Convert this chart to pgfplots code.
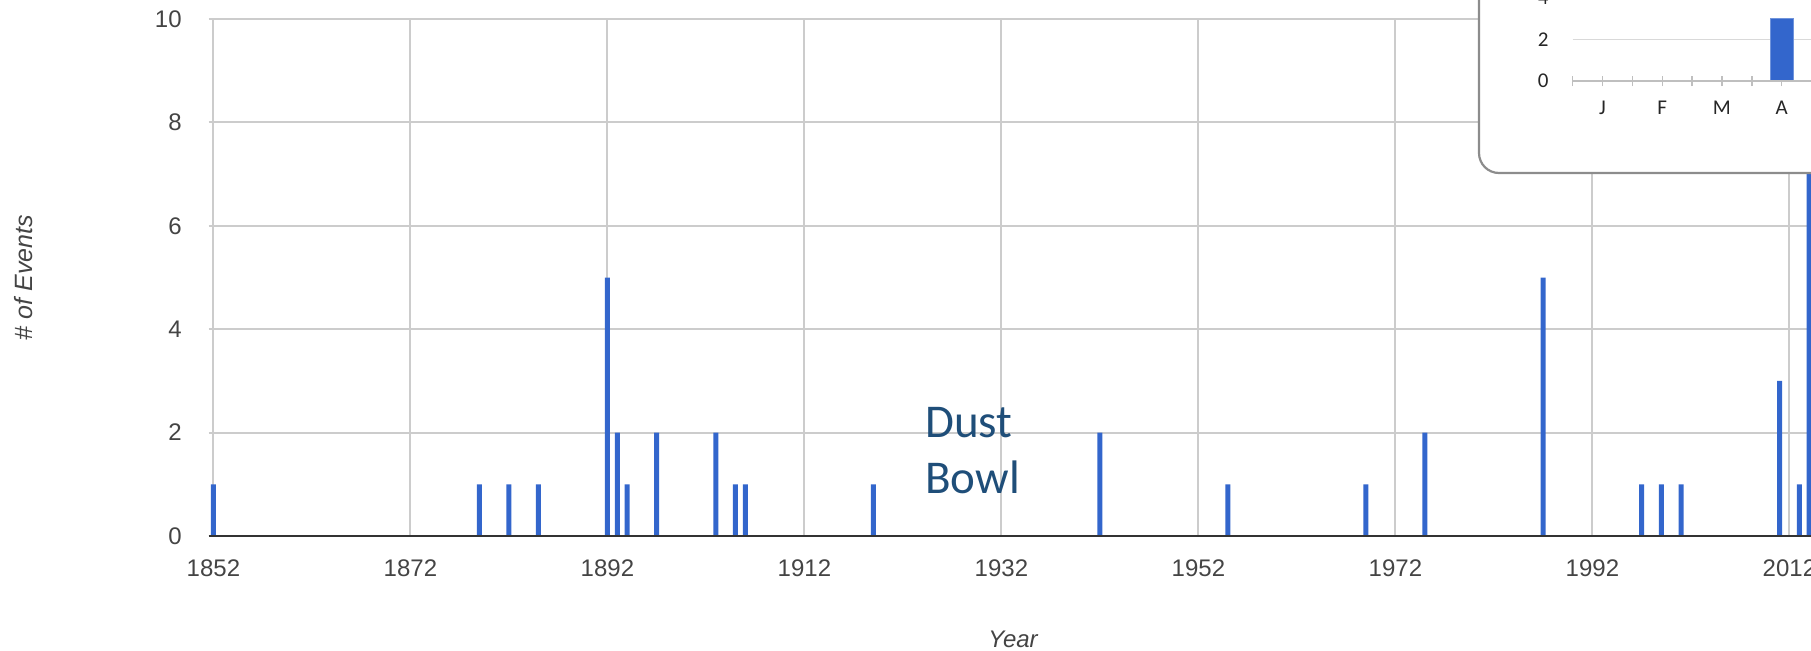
\documentclass[border=0pt]{standalone}
\usepackage{fontspec}
\setmainfont{Liberation Sans}
\newfontfamily\carlito{Carlito}
\usepackage{pgfplots}
\pgfplotsset{compat=1.18}
\definecolor{barblue}{HTML}{3366CC}
\definecolor{gridgray}{HTML}{CCCCCC}
\definecolor{labgray}{HTML}{444444}
\definecolor{dustblue}{HTML}{1F4E79}
\definecolor{boxgray}{HTML}{8C8C8C}
\definecolor{insetaxis}{HTML}{BFBFBF}
\definecolor{insetgrid}{HTML}{D9D9D9}
\begin{document}
\begin{tikzpicture}
\useasboundingbox (0,0) rectangle (905.5pt,325pt);
\clip (0,0) rectangle (905.5pt,325pt);
\begin{axis}[
  at={(104.25pt,57pt)}, anchor=south west,
  scale only axis, width=801.3pt, height=258.5pt,
  xmin=1851.5, xmax=2014.2, ymin=0, ymax=10,
  axis line style={draw=none},
  ytick={0,2,...,10}, xtick={1852,1872,...,2012},
  grid=major, major grid style={gridgray, line width=1pt},
  tick style={draw=none}, major tick length=0pt,
  ticklabel style={font=\fontsize{12}{14}\selectfont, text=labgray, inner sep=0pt},
  xticklabel style={/pgf/number format/1000 sep={}, yshift=-11.5pt},
  yticklabel style={xshift=-13.25pt},
  /pgf/number format/assume math mode=true,
  ybar, bar width=2.5pt,
]
\addplot[fill=barblue, draw=none] coordinates {
(1852,1) (1879,1) (1882,1) (1885,1) (1892,5) (1893,2) (1894,1) (1897,2)
(1903,2) (1905,1) (1906,1) (1919,1) (1942,2) (1955,1) (1969,1) (1975,2)
(1987,5) (1997,1) (1999,1) (2001,1) (2011,3) (2013,1) (2014,9)};
\draw[black!80, line width=1.2pt] (rel axis cs:0,0) -- (rel axis cs:1,0);
\end{axis}
% axis titles
\node[anchor=base, font=\fontsize{12}{14}\selectfont\itshape, text=labgray] at (506.5pt,1.5pt) {Year};
\node[anchor=base, rotate=90, font=\fontsize{12.5}{14}\selectfont\itshape, text=labgray] at (16.25pt,186.25pt) {\# of Events};
% annotation
\node[anchor=base west, inner sep=0pt, font=\carlito\fontsize{23.5}{28}\selectfont, text=dustblue] at (462.5pt,106.5pt) {Dust};
\node[anchor=base west, inner sep=0pt, font=\carlito\fontsize{23.5}{28}\selectfont, text=dustblue] at (462.5pt,78.3pt) {Bowl};
% inset
\draw[boxgray, line width=1.1pt, fill=white, rounded corners=10pt] (739.5pt,238.5pt) rectangle (960pt,360pt);
\begin{axis}[
  at={(786.35pt,284.5pt)}, anchor=south west,
  scale only axis, width=358.2pt, height=41.7pt,
  xmin=0.5, xmax=12.5, ymin=0, ymax=4,
  axis line style={draw=none},
  ytick={0,2,4}, xtick={1,...,12},
  xticklabels={J,F,M,A,M,J,J,A,S,O,N,D},
  minor xtick={0.5,1.5,...,12.5},
  xtick pos=bottom, ytick pos=left,
  tick align=center, major tick length=5pt, minor tick length=5pt,
  ytick style={draw=none},
  xtick style={insetaxis, line width=0.7pt},
  every minor tick/.append style={insetaxis, line width=0.7pt},
  ymajorgrids, major grid style={insetgrid, line width=0.8pt},
  ticklabel style={font=\carlito\fontsize{10.5}{12}\selectfont, text=black!85, inner sep=0pt},
  xticklabel style={yshift=-7.5pt},
  yticklabel style={xshift=-9.35pt},
  /pgf/number format/assume math mode=true,
]
\addplot[ybar, bar width=11.5pt, fill=barblue, draw=barblue!70!white] coordinates {(4,3)};
\draw[insetaxis, line width=1pt] (rel axis cs:0,0) -- (rel axis cs:1,0);
\end{axis}
\end{tikzpicture}
\end{document}
